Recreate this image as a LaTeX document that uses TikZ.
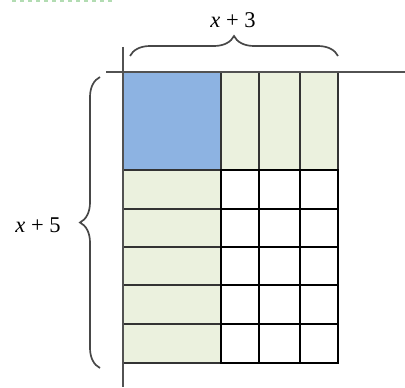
\documentclass[tikz,border=0pt]{standalone}
\usepackage{fontspec}
\setmainfont{Liberation Serif}
\usetikzlibrary{decorations.pathreplacing}
\definecolor{cellblue}{HTML}{8DB3E2}
\definecolor{cellgreen}{HTML}{EBF1DE}
\definecolor{gridline}{HTML}{333333}
\definecolor{dotgreen}{HTML}{B2DCB2}

\begin{document}
\begin{tikzpicture}[x=0.025cm, y=-0.025cm,
    cell/.style={draw=gridline, line width=1.3pt},
    boldcell/.style={draw=black, line width=1.5pt},
    axis/.style={draw=gridline!85, line width=1pt},
    bracket/.style={draw=gridline!90, line width=1.2pt, decorate,
      decoration={brace, amplitude=0.5cm}},
    label/.style={font=\fontsize{16}{19}\selectfont}]
      \useasboundingbox (0,0) rectangle (405,387);
      % \draw[help lines, gray!50, very thin] (0,0) grid[step=20] (405,387);

      \draw[dotgreen, line width=1.5pt, dash pattern=on 0.1cm off 0.1cm] (12,1) -- (116,1);

      % top row
      \draw[cell, fill=cellblue] (123,72) rectangle (221,170);
      \draw[cell, fill=cellgreen] (221,72) rectangle (259,170);
      \draw[cell, fill=cellgreen] (259,72) rectangle (300,170);
      \draw[cell, fill=cellgreen] (300,72) rectangle (338,170);

      % lower rows
      \foreach \y/\yy in {170/209, 209/247, 247/285, 285/324, 324/363} {
        \draw[cell, fill=cellgreen] (123,\y) rectangle (221,\yy);
        \draw[boldcell, fill=white] (221,\y) rectangle (259,\yy);
        \draw[boldcell, fill=white] (259,\y) rectangle (300,\yy);
        \draw[boldcell, fill=white] (300,\y) rectangle (338,\yy);
      }

      % axes
      \draw[axis] (106,72) -- (405,72);
      \draw[axis] (123,47) -- (123,387);

      % braces
      \draw[bracket] (130,56) -- (338,56);
      \draw[bracket] (100,368) -- (100,77);
      \node[label] (topLabel) at (233,20) {\textit{x} + 3};
      \node[label] (leftLabel) at (38,225) {\textit{x} + 5};
    \end{tikzpicture}
\end{document}
